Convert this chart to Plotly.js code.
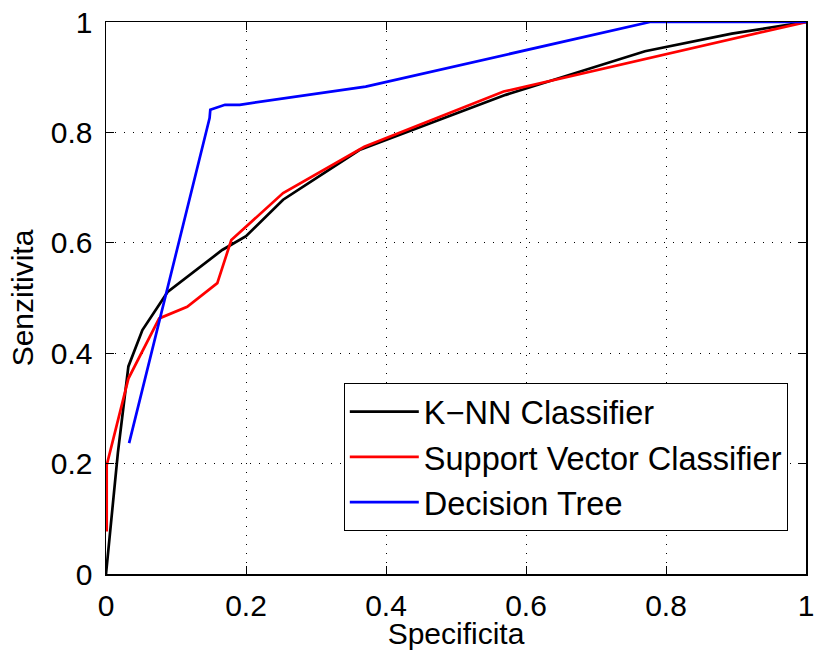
<!DOCTYPE html>
<html>
<head>
<meta charset="utf-8">
<script src="https://cdn.plot.ly/plotly-3.0.1.min.js"></script>
<style>html,body{margin:0;padding:0;background:#fff;}#chart{width:814px;height:650px;}</style>
</head>
<body>
<div id="chart"></div>
<script>
// Data
var knnX = [0, 0.017, 0.032, 0.052, 0.088, 0.166, 0.200, 0.253, 0.362, 0.571, 0.770, 0.894, 1];
var knnY = [0, 0.22, 0.376, 0.442, 0.511, 0.587, 0.612, 0.678, 0.768, 0.868, 0.947, 0.979, 1];

var svcX = [0.001, 0.001, 0.032, 0.062, 0.076, 0.116, 0.159, 0.179, 0.253, 0.369, 0.568, 1];
var svcY = [0.077, 0.197, 0.354, 0.427, 0.463, 0.484, 0.527, 0.605, 0.690, 0.774, 0.874, 1];

var dtX = [0.033, 0.148, 0.149, 0.170, 0.191, 0.371, 0.777, 1];
var dtY = [0.237, 0.826, 0.841, 0.850, 0.850, 0.883, 1, 1];

var seriesNames = ['K\u2212NN Classifier', 'Support Vector Classifier', 'Decision Tree'];
var tickVals = [0, 0.2, 0.4, 0.6, 0.8, 1];
var tickText = ['0', '0.2', '0.4', '0.6', '0.8', '1'];

var FONT = 'Liberation Sans, Arial, Helvetica, sans-serif';

var traces = [
  {x: knnX, y: knnY, name: seriesNames[0], mode: 'lines', line: {color: '#000000', width: 2.7}},
  {x: svcX, y: svcY, name: seriesNames[1], mode: 'lines', line: {color: '#ff0000', width: 2.7}},
  {x: dtX, y: dtY, name: seriesNames[2], mode: 'lines', line: {color: '#0000ff', width: 2.7}}
];

var axisCommon = {
  range: [0, 1],
  tickvals: tickVals,
  ticktext: tickText,
  ticks: 'inside',
  ticklen: 8,
  tickwidth: 1,
  tickcolor: '#000',
  showline: true,
  linecolor: '#000',
  linewidth: 1.5,
  mirror: 'ticks',
  showgrid: true,
  gridcolor: '#000',
  gridwidth: 1,
  griddash: '1px,8px',
  zeroline: false,
  ticklabeloverflow: 'allow',
  tickfont: {family: FONT, size: 30, color: '#000'}
};

var layout = {
  width: 814,
  height: 650,
  paper_bgcolor: '#fff',
  plot_bgcolor: '#fff',
  margin: {l: 106, r: 8, t: 22, b: 76},
  showlegend: true,
  xaxis: Object.assign({}, axisCommon, {
    ticklabelstandoff: 4,
    title: {text: 'Specificita', font: {family: FONT, size: 30, color: '#000'}, standoff: 0}
  }),
  yaxis: Object.assign({}, axisCommon, {
    ticklabelstandoff: 6,
    title: {text: 'Senzitivita', font: {family: FONT, size: 30, color: '#000'}, standoff: 8}
  }),
  legend: {
    x: 0.974, y: 0.078, xanchor: 'right', yanchor: 'bottom',
    bgcolor: '#fff', bordercolor: '#000', borderwidth: 1,
    font: {family: FONT, size: 32.5, color: '#000'},
    itemwidth: 69,
    tracegroupgap: 0
  }
};

Plotly.newPlot('chart', traces, layout, {displayModeBar: false, staticPlot: true});
</script>
</body>
</html>
